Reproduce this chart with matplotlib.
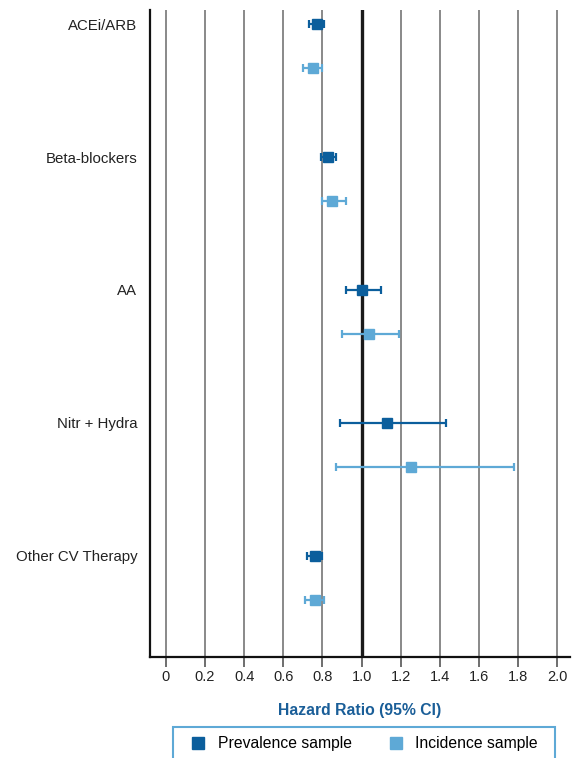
import numpy as np
import matplotlib.pyplot as plt
from matplotlib.lines import Line2D
from matplotlib.patches import Rectangle

plt.rcParams["font.family"] = ["Liberation Sans", "DejaVu Sans"]

# Hazard ratios with 95% confidence intervals
therapies = ["ACEi/ARB", "Beta-blockers", "AA", "Nitr + Hydra", "Other CV Therapy"]
prev_hr = [0.77, 0.83, 1.00, 1.13, 0.76]
prev_lo = [0.73, 0.79, 0.92, 0.89, 0.72]
prev_hi = [0.81, 0.87, 1.10, 1.43, 0.80]
inc_hr = [0.75, 0.85, 1.04, 1.25, 0.76]
inc_lo = [0.70, 0.80, 0.90, 0.87, 0.71]
inc_hi = [0.80, 0.92, 1.19, 1.78, 0.81]
xticks = [0, 0.2, 0.4, 0.6, 0.8, 1.0, 1.2, 1.4, 1.6, 1.8, 2.0]
xticklabels = ["0", "0.2", "0.4", "0.6", "0.8", "1.0", "1.2", "1.4", "1.6", "1.8", "2.0"]

prev_color = "#0b5e9c"
inc_color = "#5ea9d6"
label_color = "#1a5e98"

fig = plt.figure(figsize=(5.77, 7.58), dpi=100)
ax = fig.add_axes([0.2594, 0.1332, 0.7286, 0.8536])

y_prev = np.arange(len(therapies)) * 3.0
y_inc = y_prev + 1.0

# vertical reference lines
for x in xticks:
    if x == 1.0:
        ax.axvline(x, color="#1a1a1a", lw=2.4, zorder=1)
    else:
        ax.axvline(x, color="#808080", lw=1.3, zorder=1)

def draw_series(y, hr, lo, hi, color):
    hr = np.array(hr)
    err = [hr - np.array(lo), np.array(hi) - hr]
    ax.errorbar(hr, y, xerr=err, fmt="s", color=color, ecolor=color,
                elinewidth=1.6, capsize=3, capthick=1.6, markersize=7.5, zorder=3)

draw_series(y_prev, prev_hr, prev_lo, prev_hi, prev_color)
draw_series(y_inc, inc_hr, inc_lo, inc_hi, inc_color)

ax.set_xlim(-0.083, 2.065)
ax.set_ylim(14.29, -0.32)
ax.set_xticks(xticks)
ax.set_xticklabels(xticklabels, fontsize=10.5, color="#222222")
ax.set_yticks(y_prev)
ax.set_yticklabels(therapies, fontsize=10.8, color="#222222")
ax.tick_params(axis="y", length=0, pad=9)
ax.tick_params(axis="x", length=7, width=1.2, color="#555555", pad=2)

for side in ["top", "right"]:
    ax.spines[side].set_visible(False)
ax.spines["left"].set_linewidth(1.6)
ax.spines["bottom"].set_linewidth(1.6)
ax.spines["left"].set_color("#111111")
ax.spines["bottom"].set_color("#111111")

ax.set_xlabel("Hazard Ratio (95% CI)", fontsize=11.3, fontweight="bold",
              color=label_color, labelpad=14)

# legend entries, boxed by an open-bottomed frame running off the page
handles = [
    Line2D([], [], marker="s", linestyle="none", color=prev_color, markersize=8),
    Line2D([], [], marker="s", linestyle="none", color=inc_color, markersize=8),
]
box_left, box_top, box_width = 173 / 577, 1 - 727 / 758, 382 / 577
fig.legend(handles, ["Prevalence sample", "Incidence sample"],
           loc="upper left", bbox_to_anchor=(box_left, box_top),
           ncol=2, fontsize=11.3, frameon=False,
           borderpad=0.6, columnspacing=1.8, handletextpad=0.25,
           handlelength=2.0, borderaxespad=0)
fig.patches.append(Rectangle((box_left, -0.05), box_width, box_top + 0.05,
                             transform=fig.transFigure, fill=False,
                             edgecolor=inc_color, linewidth=1.5))

fig.savefig("out.png", dpi=100)
